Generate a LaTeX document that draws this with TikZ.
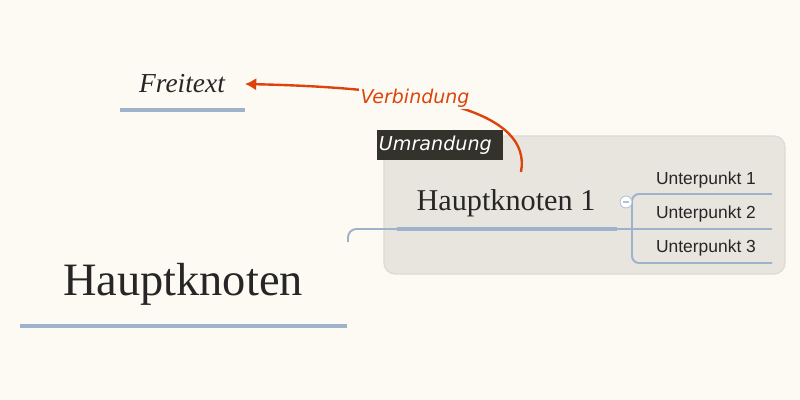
\documentclass[tikz,border=0pt]{standalone}
\usepackage{fontspec}
\setmainfont{Liberation Serif}
\setsansfont{Liberation Sans}
\newfontfamily\labelfont{DejaVu Sans}
\usetikzlibrary{arrows.meta}
\definecolor{paper}{RGB}{253,250,243}
\definecolor{branch}{RGB}{158,178,204}
\definecolor{boundfill}{RGB}{232,229,223}
\definecolor{bounddraw}{RGB}{221,219,213}
\definecolor{tagfill}{RGB}{51,51,43}
\definecolor{relation}{RGB}{220,68,12}
\definecolor{ink}{RGB}{38,38,38}
\tikzset{
  topic/.style={inner sep=0pt, text=ink},
  subtopic/.style={inner sep=0pt, text=ink, font=\sffamily\fontsize{12.4}{14}\selectfont},
  underline/.style={draw=branch, line width=3pt},
  thinbranch/.style={draw=branch, line width=1.4pt},
}
\begin{document}
\begin{tikzpicture}[x=0.025cm, y=-0.025cm]
                  \begin{scope}
                    \fill[paper] (0,0) rectangle (800,400);
                    \useasboundingbox (0,0) rectangle (800,400);

                    % boundary
                    \draw[fill=boundfill, draw=bounddraw, line width=1pt, rounded corners=8] (384,136) rectangle (785,274);
                    \node[fill=tagfill, text=white, inner xsep=0.05cm, inner ysep=0pt, text width=3.05cm, align=left,
                      minimum height=0.75cm, font=\labelfont\itshape\fontsize{13.6}{15}\selectfont] (umrandung) at (440,145) {Umrandung};

                    % Draw nodes
                    \node[topic, font=\fontsize{33}{38}\selectfont] (haupt) at (183,284) {Hauptknoten};
                    \node[topic, font=\fontsize{21.5}{25}\selectfont] (haupteins) at (506,203) {Hauptknoten 1};
                    \node[topic, font=\itshape\fontsize{19.5}{23}\selectfont] (frei) at (182,84) {Freitext};
                    \node[subtopic] (up1) at (706,180) {Unterpunkt 1};
                    \node[subtopic] (up2) at (706,214) {Unterpunkt 2};
                    \node[subtopic] (up3) at (706,248) {Unterpunkt 3};

                    % underlines
                    \draw[underline] (20,326) -- (347,326);
                    \draw[underline] (120,110) -- (245,110);
                    \coordinate (einsL) at (397,229);
                    \coordinate (einsR) at (617,229);
                    \draw[underline] (einsL) -- (einsR);

                    % branches
                    \coordinate (hook) at (348,242);
                    \draw[thinbranch, rounded corners=6] (hook) |- (einsL);
                    \coordinate (fork) at (632,229);
                    \draw[thinbranch] (einsR) -- (fork) -- (772,229);
                    \draw[thinbranch, rounded corners=5] (772,194) -- (632,194) -- (632,263) -- (772,263);
                    \node[circle, draw=branch!80, fill=white, line width=0.6pt, inner sep=0pt, minimum size=8.5pt] (fold) at (626,202) {};
                    \draw[branch!80, line width=0.8pt] ([xshift=-2pt]fold.center) -- ([xshift=2pt]fold.center);

                    % relation
                    \coordinate (start) at (521,172);
                    \coordinate (tip) at (245,84);
                    \draw[relation, line width=1.7pt, -{Latex[length=8pt,width=9pt]}]
                      (start) .. controls (532,112) and (430,88) .. (tip);
                    \node[fill=paper, text=relation, inner sep=1pt, font=\labelfont\itshape\fontsize{13.5}{16}\selectfont] (verb) at (415,98) {Verbindung};

                  \end{scope}

                \end{tikzpicture}
\end{document}
